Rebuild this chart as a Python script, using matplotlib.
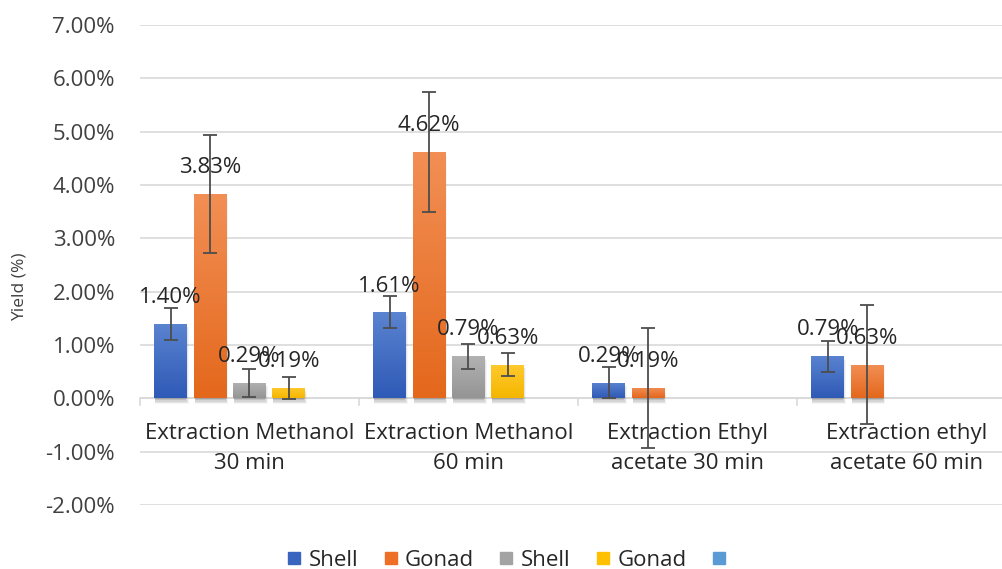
import numpy as np
import matplotlib
matplotlib.use("Agg")
import matplotlib.pyplot as plt
from matplotlib.lines import Line2D
from matplotlib.patches import Rectangle

plt.rcParams['font.family'] = ['Open Sans', 'DejaVu Sans']

categories = ["Extraction Methanol\n30 min", "Extraction Methanol\n60 min",
              "Extraction Ethyl\nacetate 30 min", "Extraction ethyl\nacetate 60 min"]
series_names = ["Shell", "Gonad", "Shell", "Gonad", " "]
shell1 = [1.40, 1.61, 0.29, 0.79]
gonad1 = [3.83, 4.62, 0.19, 0.63]
shell2 = [0.29, 0.79, np.nan, np.nan]
gonad2 = [0.19, 0.63, np.nan, np.nan]
empty5 = [np.nan, np.nan, np.nan, np.nan]
err_shell1 = [0.30, 0.30, 0.29, 0.29]
err_gonad1 = [1.11, 1.12, 1.12, 1.12]
err_shell2 = [0.26, 0.235, np.nan, np.nan]
err_gonad2 = [0.21, 0.22, np.nan, np.nan]
yticks = [-2, -1, 0, 1, 2, 3, 4, 5, 6, 7]

values = [shell1, gonad1, shell2, gonad2, empty5]
errors = [err_shell1, err_gonad1, err_shell2, err_gonad2, [np.nan] * 4]
tops = ["#5A83D0", "#F28F55", "#B2B2B2", "#FFCA2E", "#7FB0DE"]
bottoms = ["#2F5AB6", "#E4681C", "#959595", "#F4B600", "#4A8BCB"]
legend_cols = ["#3A65BE", "#EE7027", "#A3A3A3", "#FFC000", "#5B9BD5"]

W, H = 1003, 569
fig = plt.figure(figsize=(W / 100, H / 100), dpi=100)
ax = fig.add_axes([140 / W, 1 - 505 / H, 876 / W, 480 / H])
ax.set_xlim(-0.5, 3.5)
ax.set_ylim(-2, 7)

def to_rgb(h):
    h = h.lstrip('#')
    return np.array([int(h[i:i + 2], 16) / 255 for i in (0, 2, 4)])

step = 0.18
bw = 0.15
x = np.arange(len(categories))
for i, (vals, errs) in enumerate(zip(values, errors)):
    xs = x + (i - 2) * step
    c0, c1 = to_rgb(bottoms[i]), to_rgb(tops[i])
    for xi, v, e in zip(xs, vals, errs):
        if np.isnan(v):
            continue
        x0 = xi - bw / 2
        # soft shadow
        for k, a in enumerate([0.10, 0.08, 0.06, 0.04]):
            d = 0.02 + 0.025 * k
            ax.add_patch(Rectangle((x0 + 0.004, -d - 0.02), bw - 0.008 + 0.004 * k, v + d * 0.5,
                                   facecolor='black', alpha=a, edgecolor='none', zorder=2))
        rect = Rectangle((x0, 0), bw, v, facecolor='none', edgecolor='none', zorder=3)
        ax.add_patch(rect)
        t = np.linspace(0, 1, 64).reshape(-1, 1, 1)
        arr = c0 * (1 - t) + c1 * t
        arr = np.repeat(arr, 2, axis=1)
        im = ax.imshow(arr, extent=[x0, x0 + bw, 0, v], origin='lower', aspect='auto',
                       zorder=3, interpolation='bilinear')
        im.set_clip_path(rect)
        if not np.isnan(e):
            ax.errorbar(xi, v, yerr=e, fmt='none', ecolor='#4D4D4D', elinewidth=1.3,
                        capsize=5, capthick=1.3, zorder=5)
        ax.annotate(f"{v:.2f}%", (xi, v), xytext=(0, 19), textcoords='offset points',
                    ha='center', va='center', fontsize=16, color='#262626', zorder=6)

ax.set_xlim(-0.5, 3.5)
ax.set_ylim(-2, 7)
ax.set_aspect('auto')

ax.set_yticks(yticks)
ax.set_yticklabels([f"{t:.2f}%" for t in yticks], fontsize=16, color='#404040')
ax.tick_params(axis='y', length=0, pad=18)
ax.grid(axis='y', color='#D9D9D9', linewidth=1.2, zorder=0)
ax.set_axisbelow(True)
for s in ax.spines.values():
    s.set_visible(False)
ax.axhline(0, color='#D9D9D9', linewidth=1.2, zorder=1)
ax.set_xticks([])
for b in np.arange(-0.5, 3.6, 1.0):
    ax.plot([b, b], [0, -0.13], color='#D9D9D9', linewidth=1.2, zorder=1, clip_on=False)

for xi, lab in zip(x, categories):
    ax.annotate(lab, (xi, 0), xytext=(0, -17.5), textcoords='offset points', ha='center',
                va='top', fontsize=16, color='#262626', linespacing=1.6, zorder=4)

fig.text(20 / W, 1 - 287 / H, "Yield (%)", rotation=90, ha='center', va='center',
         fontsize=12.5, color='#404040')

handles = [Line2D([], [], marker='s', linestyle='none', markersize=9, color=c) for c in legend_cols]
fig.legend(handles, series_names, loc='center', ncol=5,
           bbox_to_anchor=(511 / W, 1 - 560 / H), frameon=False, fontsize=16,
           handletextpad=0.15, columnspacing=0.95, handlelength=1.0, labelcolor='#262626')

fig.savefig("out.png", dpi=100)
